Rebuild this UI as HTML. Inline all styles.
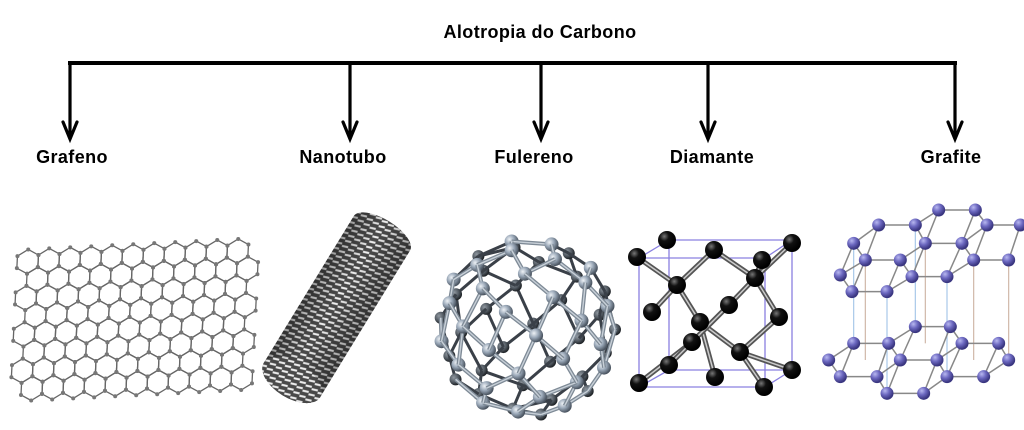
<!DOCTYPE html>
<html><head><meta charset="utf-8"><style>
html,body{margin:0;padding:0;background:#fff;width:1024px;height:430px;overflow:hidden}
svg{display:block}
text{font-family:"Liberation Sans",sans-serif;font-weight:bold;fill:#000;letter-spacing:0.4px}
</style></head><body>
<svg id="s" width="1024" height="430" viewBox="0 0 1024 430" xmlns="http://www.w3.org/2000/svg">
<defs>
<radialGradient id="gb" cx="35%" cy="35%" r="65%"><stop offset="0" stop-color="#eef2f6"/><stop offset="0.5" stop-color="#9aa8b8"/><stop offset="1" stop-color="#4a5460"/></radialGradient>
<radialGradient id="gbd" cx="35%" cy="35%" r="65%"><stop offset="0" stop-color="#9098a0"/><stop offset="0.6" stop-color="#505860"/><stop offset="1" stop-color="#202428"/></radialGradient>
<radialGradient id="bk" cx="35%" cy="30%" r="65%"><stop offset="0" stop-color="#777"/><stop offset="0.4" stop-color="#111"/><stop offset="1" stop-color="#000"/></radialGradient>
<radialGradient id="pu" cx="35%" cy="30%" r="65%"><stop offset="0" stop-color="#b8b8f0"/><stop offset="0.5" stop-color="#6c68c0"/><stop offset="1" stop-color="#3a3680"/></radialGradient>
<pattern id="tube" width="7" height="6" patternUnits="userSpaceOnUse"><rect width="7" height="6" fill="#4a4a4a"/><line x1="0.5" y1="3.5" x2="6.5" y2="1.5" stroke="#f0f0f0" stroke-width="2"/></pattern>
<linearGradient id="shade" x1="0" x2="1"><stop offset="0" stop-color="#000" stop-opacity="0.35"/><stop offset="0.45" stop-color="#000" stop-opacity="0"/><stop offset="1" stop-color="#000" stop-opacity="0.35"/></linearGradient>
</defs>
<text x="540" y="38" font-size="18" text-anchor="middle">Alotropia do Carbono</text>
<line x1="68" y1="63" x2="957" y2="63" stroke="#000" stroke-width="4"/>
<g id="arrows" stroke="#000" stroke-width="3.2" fill="none" stroke-linecap="round"></g>
<text x="72" y="163" font-size="18" text-anchor="middle">Grafeno</text>
<text x="343" y="163" font-size="18" text-anchor="middle">Nanotubo</text>
<text x="534" y="163" font-size="18" text-anchor="middle">Fulereno</text>
<text x="712" y="163" font-size="18" text-anchor="middle">Diamante</text>
<text x="951" y="163" font-size="18" text-anchor="middle">Grafite</text>
<g id="graf"></g>
<g transform="translate(292,380) rotate(31.5)">
<path d="M-33,0 L-33,-172 A33,14 0 0 1 33,-172 L33,0 A33,18 0 0 1 -33,0 Z" fill="url(#tube)"/>
<path d="M-33,0 L-33,-172 A33,14 0 0 1 33,-172 L33,0 A33,18 0 0 1 -33,0 Z" fill="url(#shade)"/>
<ellipse cx="0" cy="0" rx="33" ry="18" fill="url(#tube)" opacity="0.9"/>
</g>
<g id="ful"></g>
<g id="dia"></g>
<g id="gra"></g>
</svg>
<script>
(function(){
var NS="http://www.w3.org/2000/svg";
function el(p,t,a){var e=document.createElementNS(NS,t);for(var k in a)e.setAttribute(k,a[k]);p.appendChild(e);return e;}
var ar=document.getElementById('arrows');
[70,350,541,708,955].forEach(function(x){el(ar,'line',{x1:x,y1:63,x2:x,y2:138});el(ar,'polyline',{points:(x-7)+',122 '+x+',139 '+(x+7)+',122'});});
var g=document.getElementById('graf');var w=21,r=w/Math.sqrt(3),pts=[];
function tf(x,y){return [x+(y-255)*-0.05, y+(x-20)*-0.05];}
for(var row=0;row<8;row++){for(var c=0;c<11;c++){var cx=28+c*w+(row%2?w/2:0),cy=262+row*1.5*r;var v=[];for(var i=0;i<6;i++){var a=Math.PI/180*(60*i-90);v.push(tf(cx+r*Math.cos(a),cy+r*Math.sin(a)));}
for(var i=0;i<6;i++){var p=v[i],q=v[(i+1)%6];el(g,'line',{x1:p[0],y1:p[1],x2:q[0],y2:q[1],stroke:'#666','stroke-width':1.3});}
v.forEach(function(p){pts.push(p);});}}
pts.forEach(function(p){el(g,'circle',{cx:p[0],cy:p[1],r:2,fill:'#777'});});
var f=document.getElementById('ful');var N=60,sp=[];var ga=Math.PI*(3-Math.sqrt(5));
for(var i=0;i<N;i++){var y=1-2*(i+0.5)/N,rr=Math.sqrt(1-y*y),th=ga*i;var x=Math.cos(th)*rr,z=Math.sin(th)*rr;
var a=0.5,x2=x*Math.cos(a)+z*Math.sin(a),z2=-x*Math.sin(a)+z*Math.cos(a);sp.push([x2,y,z2]);}
var R=88,CX=527,CY=328;var bonds=[];
for(var i=0;i<N;i++)for(var j=i+1;j<N;j++){var d=Math.hypot(sp[i][0]-sp[j][0],sp[i][1]-sp[j][1],sp[i][2]-sp[j][2]);if(d<0.5)bonds.push([i,j,(sp[i][2]+sp[j][2])/2]);}
var items=[];bonds.forEach(function(b){items.push({z:b[2]-0.01,t:'b',b:b});});sp.forEach(function(p,i){items.push({z:p[2],t:'p',i:i});});
items.sort(function(a,b){return a.z-b.z;});
items.forEach(function(it){if(it.t=='b'){var p=sp[it.b[0]],q=sp[it.b[1]];var fr=it.z>0;
el(f,'line',{x1:CX+R*p[0],y1:CY+R*p[1],x2:CX+R*q[0],y2:CY+R*q[1],stroke:fr?'#7e8a96':'#3a4048','stroke-width':fr?4:3});
if(fr)el(f,'line',{x1:CX+R*p[0],y1:CY+R*p[1],x2:CX+R*q[0],y2:CY+R*q[1],stroke:'#c8d0d8','stroke-width':1.4});}
else{var p=sp[it.i];el(f,'circle',{cx:CX+R*p[0],cy:CY+R*p[1],r:p[2]>0?7:6,fill:p[2]>0?'url(#gb)':'url(#gbd)'});}});
var d=document.getElementById('dia');
var cub=[[[639,258],[765,258],[765,387],[639,387]],[[669,240],[792,240],[792,370],[669,370]]];
cub.forEach(function(s){el(d,'polygon',{points:s.map(function(p){return p.join(',')}).join(' '),fill:'none',stroke:'#8a80e0','stroke-width':1.3});});
for(var i=0;i<4;i++)el(d,'line',{x1:cub[0][i][0],y1:cub[0][i][1],x2:cub[1][i][0],y2:cub[1][i][1],stroke:'#8a80e0','stroke-width':1.3});
var dp=[[637,257],[667,240],[714,250],[762,260],[792,243],[677,285],[755,278],[652,312],[729,305],[779,317],[700,322],[692,342],[740,352],[669,365],[715,377],[792,370],[639,383],[764,387]];
var db=[[0,5],[2,5],[5,10],[5,7],[2,6],[4,6],[6,9],[6,8],[3,6],[10,14],[10,12],[8,11],[11,13],[11,16],[12,15],[12,17],[12,9],[8,13]];
db.forEach(function(b){var p=dp[b[0]],q=dp[b[1]];el(d,'line',{x1:p[0],y1:p[1],x2:q[0],y2:q[1],stroke:'#555','stroke-width':5});el(d,'line',{x1:p[0],y1:p[1],x2:q[0],y2:q[1],stroke:'#ccc','stroke-width':1.5});});
dp.forEach(function(p){el(d,'circle',{cx:p[0],cy:p[1],r:9,fill:'url(#bk)'});});
var gr=document.getElementById('gra');
var tl=[[1100,105],[1210,105],[1280,60],[1390,60],[1425,105],[1525,105],[1025,160],[1060,210],[1165,210],[1240,160],[1350,160],[1385,210],[1490,210],[985,255],[1020,305],[1125,305],[1200,260],[1305,260]];
var bl=[[1210,410],[1315,410],[1025,460],[1130,460],[1350,460],[1460,460],[950,510],[1165,510],[1275,510],[1490,510],[985,560],[1095,560],[1305,560],[1415,560],[1125,610],[1235,610]];
function cv(a){return a.map(function(p){return [p[0]/3+512,p[1]/3+190];});}
tl=cv(tl);bl=cv(bl);
[[1025,160,460],[1060,210,510],[1210,105,410],[1240,160,460],[1305,260,560],[1490,210,510],[1125,305,610],[1385,210,510]].forEach(function(v,k){var x=v[0]/3+512;el(gr,'line',{x1:x,y1:v[1]/3+190,x2:x,y2:v[2]/3+190,stroke:k%2?'#d0b8a8':'#a8c8e8','stroke-width':1.2});});
[tl,bl].forEach(function(L){for(var i=0;i<L.length;i++)for(var j=i+1;j<L.length;j++){var dd=Math.hypot(L[i][0]-L[j][0],L[i][1]-L[j][1]);if(dd<38)el(gr,'line',{x1:L[i][0],y1:L[i][1],x2:L[j][0],y2:L[j][1],stroke:'#888','stroke-width':1.5});}});
tl.concat(bl).forEach(function(p){el(gr,'circle',{cx:p[0],cy:p[1],r:6.5,fill:'url(#pu)'});});
})();
</script>
</body></html>
